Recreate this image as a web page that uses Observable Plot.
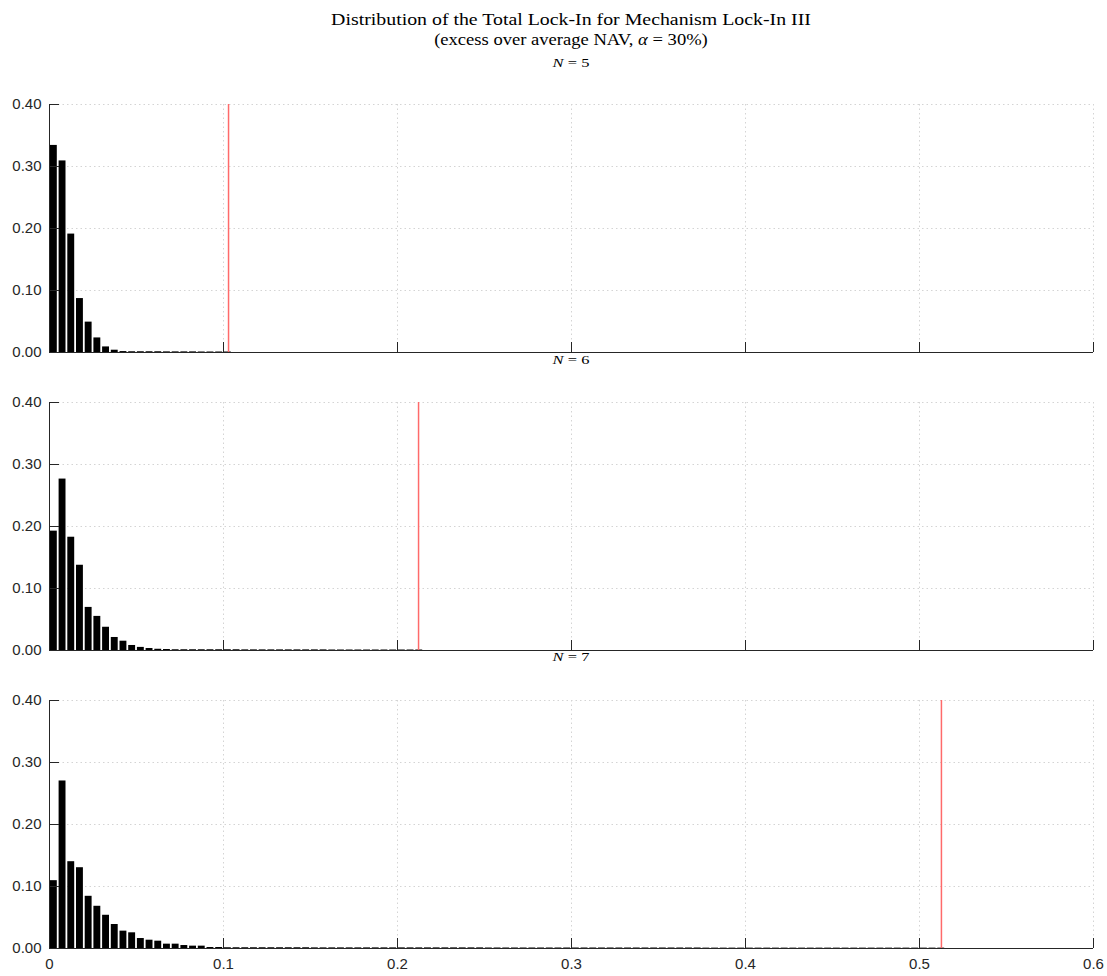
<!DOCTYPE html>
<html>
<head>
<meta charset="utf-8">
<script src="https://cdn.jsdelivr.net/npm/d3@7"></script>
<script src="https://cdn.jsdelivr.net/npm/@observablehq/plot@0.6"></script>
<style>
  html, body { margin: 0; padding: 0; background: #fff; }
  #chart { position: relative; width: 1107px; height: 976px; overflow: hidden; }
  .title { position: absolute; left: 49px; width: 1044px; text-align: center; font-family: "Liberation Serif", "DejaVu Serif", serif; font-size: 16px; line-height: 20px; color: #000; white-space: nowrap; transform-origin: 522px 0; }
  .ptitle { position: absolute; left: 49px; width: 1044px; text-align: center; font-family: "Liberation Serif", "DejaVu Serif", serif; font-size: 13.5px; line-height: 12px; color: #000; transform: scaleX(1.22); transform-origin: 522px 0; }
  .panel { position: absolute; left: 0; }
  .panel svg { overflow: visible; }
</style>
</head>
<body>
<div id="chart"></div>
<script>
// ---------- data ----------
const titleLine1 = "Distribution of the Total Lock-In for Mechanism Lock-In III";
const titleLine2 = "(excess over average NAV, <i>α</i> = 30%)";
const panelN = [5, 6, 7];
const binWidth = 0.005;

// probability mass per bin (bin i spans [i*binWidth, (i+1)*binWidth])
const lockInN5 = [0.334, 0.309, 0.191, 0.087, 0.049, 0.0235, 0.009, 0.0037,
  0.0015, 0.0012, 0.0012, 0.0012, 0.0012, 0.001, 0.001, 0.001, 0.001, 0.0008, 0.0008, 0.0008, 0.0008];
const lockInN6 = [0.1925, 0.2765, 0.1827, 0.1375, 0.0695, 0.055, 0.0375, 0.021, 0.015, 0.0081, 0.005, 0.0032, 0.002, 0.0016,
  0.0012, 0.0012, 0.0012, 0.0012, 0.0012, 0.0012, 0.0012, 0.0012,
  0.001, 0.001, 0.001, 0.001, 0.001, 0.001, 0.001, 0.001, 0.001, 0.001,
  0.0008, 0.0008, 0.0008, 0.0008, 0.0008, 0.0008, 0.0008, 0.0008, 0.0008, 0.0008, 0.0008];
const lockInN7 = [0.1094, 0.2702, 0.14, 0.1303, 0.0842, 0.0681, 0.0536, 0.0387, 0.028, 0.0253,
  0.0161, 0.0134, 0.0118, 0.007, 0.007, 0.0048, 0.0038, 0.0038, 0.0016, 0.0016,
  0.0012, 0.0012, 0.0012, 0.0012, 0.0012, 0.0012, 0.0012, 0.0012, 0.0012, 0.0012,
  0.001, 0.001, 0.001, 0.001, 0.001, 0.001, 0.001, 0.001, 0.001, 0.001,
  0.001, 0.001, 0.001, 0.001, 0.001, 0.001, 0.001, 0.001, 0.001, 0.001,
  0.0008, 0.0008, 0.0008, 0.0008, 0.0008, 0.0008, 0.0008, 0.0008, 0.0008, 0.0008,
  0.0008, 0.0008, 0.0008, 0.0008, 0.0008, 0.0008, 0.0008, 0.0008, 0.0008, 0.0008,
  0.0008, 0.0008, 0.0008, 0.0008, 0.0008,
  0.0006, 0.0006, 0.0006, 0.0006, 0.0006, 0.0006, 0.0006, 0.0006, 0.0006, 0.0006,
  0.0006, 0.0006, 0.0006, 0.0006, 0.0006, 0.0006, 0.0006, 0.0006, 0.0006, 0.0006,
  0.0006, 0.0006, 0.0006, 0.0006, 0.0006, 0.0006, 0.0006, 0.0006];
const lockInSeries = [lockInN5, lockInN6, lockInN7];
// red marker position (total lock-in level) per panel
const markerValues = [0.1029, 0.2121, 0.5126];

const xTicks = [0, 0.1, 0.2, 0.3, 0.4, 0.5, 0.6];
const yTicks = [0, 0.1, 0.2, 0.3, 0.4];
const xDomain = [0, 0.6];
const yDomain = [0, 0.4];

// ---------- layout ----------
const W = 1107, ML = 49, MR = 14, PH = 248;
const frameW = W - ML - MR;
const layout = [
  {top: 54, mt: 50, mb: 2, labelY: 57},
  {top: 354, mt: 48, mb: 2, labelY: 354},
  {top: 652, mt: 48, mb: 28, labelY: 651}
];
const axisColor = "#262626";
const gridStyle = {stroke: "#d4d4d4", strokeOpacity: 1, strokeDasharray: "1.5,3"};

const chart = document.getElementById("chart");
const t1 = document.createElement("div");
t1.className = "title"; t1.style.top = "10px"; t1.style.transform = "scaleX(1.24)"; t1.textContent = titleLine1;
chart.appendChild(t1);
const t2 = document.createElement("div");
t2.className = "title"; t2.style.top = "30px"; t2.style.transform = "scaleX(1.16)"; t2.innerHTML = titleLine2;
chart.appendChild(t2);

lockInSeries.forEach((values, k) => {
  const L = layout[k];
  const bottom = k === lockInSeries.length - 1;
  const bars = values.map((v, i) => ({x1: i * binWidth, x2: (i + 1) * binWidth, p: v}));
  const marks = [
    Plot.gridX(xTicks.slice(1), gridStyle),
    Plot.gridY(yTicks.slice(1), gridStyle),
    Plot.ruleY([0], {stroke: axisColor}),
    Plot.rectY(bars, {x1: "x1", x2: "x2", y: "p", fill: "#000", insetLeft: 0.9, insetRight: 0.9}),
    Plot.ruleX([markerValues[k]], {y1: yDomain[0], y2: yDomain[1], stroke: "#ff6a6a", strokeWidth: 1.5}),
    Plot.ruleX([0], {stroke: axisColor}),
    Plot.tickY(yTicks, {y: d => d, stroke: axisColor, insetRight: frameW - 10}),
    Plot.tickX(xTicks, {x: d => d, stroke: axisColor, insetTop: PH - 10}),
    Plot.axisY(yTicks, {tickSize: 0, tickPadding: 8, tickFormat: d3.format(".2f"), fill: axisColor, label: null})
  ];
  if (bottom) {
    marks.push(Plot.axisX(xTicks, {tickSize: 0, tickPadding: 10, tickFormat: d => d === 0 ? "0" : d3.format(".1f")(d), fill: axisColor, label: null}));
  }
  const svg = Plot.plot({
    width: W,
    height: L.mt + PH + L.mb,
    marginLeft: ML, marginRight: MR, marginTop: L.mt, marginBottom: L.mb,
    style: {fontFamily: "'Liberation Sans', Arial, sans-serif", fontSize: "15px", color: axisColor, background: "transparent", overflow: "visible"},
    x: bottom ? {domain: xDomain} : {domain: xDomain, axis: null},
    y: {domain: yDomain},
    marks
  });
  const wrap = document.createElement("div");
  wrap.className = "panel";
  wrap.style.top = L.top + "px";
  wrap.appendChild(svg);
  chart.appendChild(wrap);

  const lab = document.createElement("div");
  lab.className = "ptitle";
  lab.style.top = L.labelY + "px";
  lab.innerHTML = "<i>N</i> = " + panelN[k];
  chart.appendChild(lab);
});
</script>
</body>
</html>
